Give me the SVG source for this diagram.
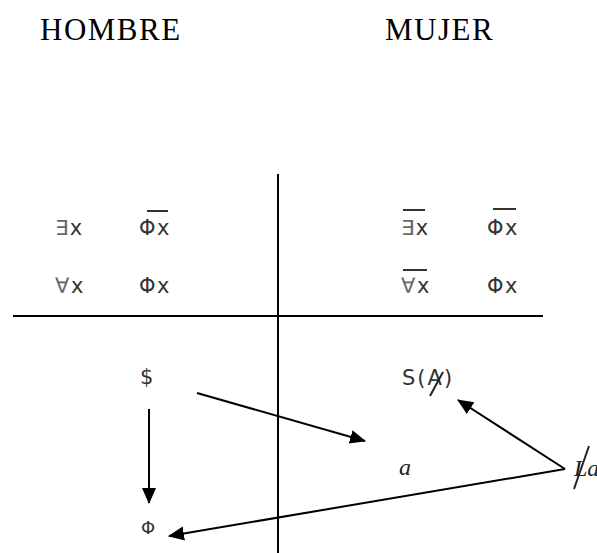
<svg xmlns="http://www.w3.org/2000/svg" width="597" height="553" viewBox="0 0 597 553">
<defs>
<style>
.title{font-family:"Liberation Serif","Times New Roman",serif;font-size:31px;letter-spacing:1.5px;fill:#000}
.sym{font-family:"DejaVu Sans",Verdana,sans-serif;font-size:21px;letter-spacing:1.5px;fill:#333}
.q{fill:#666}
.it{font-family:"Liberation Serif",serif;font-style:italic;font-size:24px;fill:#222}
.ln{stroke:#000;stroke-width:2;fill:none}
.ar{stroke:#000;stroke-width:2;fill:none}
.bar{stroke:#333;stroke-width:2}
</style>
<marker id="ahb" markerWidth="16" markerHeight="16" refX="15" refY="8" orient="auto" markerUnits="userSpaceOnUse" viewBox="0 0 16 16">
<path d="M0,1 L16,8 L0,15 Z" fill="#000"/>
</marker>
</defs>
<rect width="597" height="553" fill="#fff"/>
<g id="titles">
<text class="title" x="40" y="40">HOMBRE</text>
<text class="title" x="385" y="40">MUJER</text>
</g>
<g id="axes">
<line class="ln" x1="278" y1="174" x2="278" y2="553"/>
<line class="ln" x1="13" y1="316" x2="543" y2="316"/>
</g>
<g id="hombre-formulas">
<text class="sym" x="55" y="235"><tspan class="q">∃</tspan>x</text>
<text class="sym" x="139" y="235">Φx</text>
<line class="bar" x1="147" y1="211" x2="168" y2="211"/>
<text class="sym" x="55" y="293"><tspan class="q">∀</tspan>x</text>
<text class="sym" x="139" y="293">Φx</text>
</g>
<g id="mujer-formulas">
<text class="sym" x="401" y="235"><tspan class="q">∃</tspan>x</text>
<line class="bar" x1="403" y1="210" x2="425" y2="210"/>
<text class="sym" x="487" y="235">Φx</text>
<line class="bar" x1="493" y1="209" x2="516" y2="209"/>
<text class="sym" x="401" y="293"><tspan class="q">∀</tspan>x</text>
<line class="bar" x1="403" y1="270" x2="427" y2="270"/>
<text class="sym" x="487" y="293">Φx</text>
</g>
<g id="node-S">
<text class="sym" x="140" y="384">$</text>
</g>
<g id="node-SA">
<text class="sym" x="402" y="385" style="letter-spacing:2px">S(A)</text>
<line stroke="#222" stroke-width="2" x1="430" y1="396" x2="443" y2="372"/>
</g>
<g id="node-a">
<text class="it" x="399" y="475">a</text>
</g>
<g id="node-La">
<text class="it" x="574" y="476">La</text>
<line stroke="#222" stroke-width="2" x1="574" y1="489" x2="589" y2="446"/>
</g>
<g id="node-Phi">
<text class="sym" x="141" y="534" style="font-size:18px">Φ</text>
</g>
<g id="connectors">
<line class="ar" x1="197" y1="393" x2="365" y2="441" marker-end="url(#ahb)"/>
<line class="ar" x1="149" y1="409" x2="149" y2="503" marker-end="url(#ahb)"/>
<line class="ar" x1="565" y1="469" x2="169" y2="536" marker-end="url(#ahb)"/>
<line class="ar" x1="565" y1="469" x2="458" y2="400" marker-end="url(#ahb)"/>
</g>
</svg>
